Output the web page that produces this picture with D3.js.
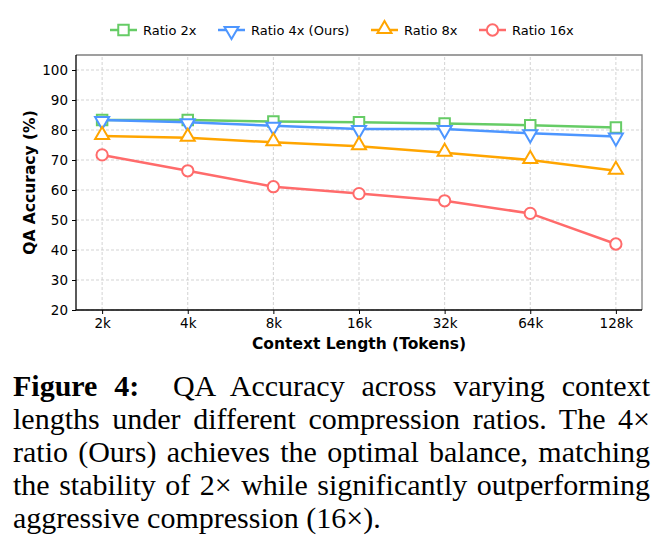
<!DOCTYPE html>
<html>
<head>
<meta charset="utf-8">
<script src="https://cdn.jsdelivr.net/npm/d3@7"></script>
<style>
  body { margin: 0; background: #fff; width: 666px; height: 548px; overflow: hidden; position: relative; }
  svg { position: absolute; left: 0; top: 0; }
  .caption { position: absolute; left: 13px; top: 369px; width: 637px;
    font-family: "Liberation Serif", "Times New Roman", serif; font-size: 30px; line-height: 33px; color: #000; }
  .caption div { text-align: justify; text-align-last: justify; white-space: nowrap; }
  .caption div.last { text-align-last: left; }
</style>
</head>
<body>
<div class="caption">
  <div><b>Figure 4:</b>&nbsp; QA Accuracy across varying context</div>
  <div>lengths under different compression ratios. The 4×</div>
  <div>ratio (Ours) achieves the optimal balance, matching</div>
  <div>the stability of 2× while significantly outperforming</div>
  <div class="last">aggressive compression (16×).</div>
</div>
<script>
// data
const contextLengths = ["2k", "4k", "8k", "16k", "32k", "64k", "128k"];
const ratio2x  = [83.3, 83.3, 82.8, 82.6, 82.2, 81.6, 80.8];
const ratio4x  = [83.3, 82.6, 81.4, 80.3, 80.3, 78.9, 77.8];
const ratio8x  = [78.0, 77.4, 75.9, 74.6, 72.4, 70.0, 66.4];
const ratio16x = [71.7, 66.4, 61.1, 58.8, 56.4, 52.2, 42.0];
const yTicks = [20, 30, 40, 50, 60, 70, 80, 90, 100];

const series = [
  { name: "Ratio 2x",         values: ratio2x,  color: "#66cc66", marker: "square" },
  { name: "Ratio 4x (Ours)",  values: ratio4x,  color: "#4d96ff", marker: "down" },
  { name: "Ratio 8x",         values: ratio8x,  color: "#ffa500", marker: "up" },
  { name: "Ratio 16x",        values: ratio16x, color: "#ff6b6b", marker: "circle" }
];

const W = 666, H = 548;
const margin = { left: 76, right: 24, top: 55, bottom: 238 };
const font = "DejaVu Sans, sans-serif";

const svg = d3.select("body").insert("svg", ".caption")
  .attr("width", W).attr("height", H);

const x = d3.scalePoint()
  .domain(contextLengths)
  .range([margin.left, W - margin.right])
  .padding(0.305);

const y = d3.scaleLinear()
  .domain([20, 105])
  .range([H - margin.bottom, margin.top]);

const x0 = margin.left, x1 = W - margin.right;
const y0 = H - margin.bottom, y1 = margin.top;

// grid
const grid = svg.append("g");
grid.selectAll("line.vg").data(contextLengths).enter().append("line")
  .attr("x1", d => x(d)).attr("x2", d => x(d))
  .attr("y1", y0).attr("y2", y1)
  .attr("stroke", "#c8c8c8").attr("stroke-width", 0.8).attr("stroke-dasharray", "3,2");
grid.selectAll("line.hg").data(yTicks).enter().append("line")
  .attr("x1", x0).attr("x2", x1)
  .attr("y1", d => y(d)).attr("y2", d => y(d))
  .attr("stroke", "#c8c8c8").attr("stroke-width", 0.8).attr("stroke-dasharray", "3,2");

// top & right frame (grey)
svg.append("path")
  .attr("d", `M${x0},${y1}H${x1}V${y0}`)
  .attr("fill", "none").attr("stroke", "#808080").attr("stroke-width", 1.3);

// axes
const xAxis = svg.append("g")
  .attr("transform", `translate(0,${y0})`)
  .call(d3.axisBottom(x).tickSize(4).tickPadding(4).tickSizeOuter(0));
const yAxis = svg.append("g")
  .attr("transform", `translate(${x0},0)`)
  .call(d3.axisLeft(y).tickValues(yTicks).tickSize(4).tickPadding(4).tickSizeOuter(0));

[xAxis, yAxis].forEach(a => {
  a.select(".domain").attr("stroke", "#000").attr("stroke-width", 1.3);
  a.selectAll(".tick line").attr("stroke", "#000").attr("stroke-width", 1);
  a.selectAll(".tick text").attr("font-family", font).attr("font-size", 13.5).attr("fill", "#000");
});
// extend the axis lines across the whole frame
xAxis.select(".domain").attr("d", `M${x0},0H${x1}`);
yAxis.select(".domain").attr("d", `M0,${y0}V${y1}`);

// axis titles
svg.append("text")
  .attr("x", (x0 + x1) / 2).attr("y", 349)
  .attr("text-anchor", "middle")
  .attr("font-family", font).attr("font-size", 15.5).attr("font-weight", "bold")
  .text("Context Length (Tokens)");
svg.append("text")
  .attr("transform", `translate(35,${(y0 + y1) / 2}) rotate(-90)`)
  .attr("text-anchor", "middle")
  .attr("font-family", font).attr("font-size", 15.5).attr("font-weight", "bold")
  .text("QA Accuracy (%)");

// marker paths
function markerPath(type) {
  if (type === "square") return d3.symbol().type(d3.symbolSquare).size(110)();
  if (type === "circle") return d3.symbol().type(d3.symbolCircle).size(100)();
  return d3.symbol().type(d3.symbolTriangle).size(85)();
}
function markerTransform(type, px, py) {
  if (type === "down") return `translate(${px},${py + 1}) rotate(180)`;
  if (type === "up") return `translate(${px},${py - 1})`;
  return `translate(${px},${py})`;
}

const line = d3.line()
  .x((d, i) => x(contextLengths[i]))
  .y(d => y(d));

series.forEach(s => {
  const g = svg.append("g");
  g.append("path")
    .datum(s.values)
    .attr("d", line)
    .attr("fill", "none")
    .attr("stroke", s.color)
    .attr("stroke-width", 2.5);
  g.selectAll("path.m").data(s.values).enter().append("path")
    .attr("class", "m")
    .attr("d", markerPath(s.marker))
    .attr("transform", (d, i) => markerTransform(s.marker, x(contextLengths[i]), y(d)))
    .attr("fill", "#fff")
    .attr("stroke", s.color)
    .attr("stroke-width", 2);
});

// legend
const legendX = [110, 218, 371, 479];
const legend = svg.append("g");
series.forEach((s, i) => {
  const lg = legend.append("g").attr("transform", `translate(${legendX[i]},30)`);
  lg.append("line")
    .attr("x1", 0).attr("x2", 27).attr("y1", 0).attr("y2", 0)
    .attr("stroke", s.color).attr("stroke-width", 2.5);
  lg.append("path")
    .attr("d", markerPath(s.marker))
    .attr("transform", markerTransform(s.marker, 13.5, 0))
    .attr("fill", "#fff").attr("stroke", s.color).attr("stroke-width", 2);
  lg.append("text")
    .attr("x", 33).attr("y", 0).attr("dy", "0.35em")
    .attr("font-family", font).attr("font-size", 13).attr("fill", "#000")
    .text(s.name);
});
</script>
</body>
</html>
